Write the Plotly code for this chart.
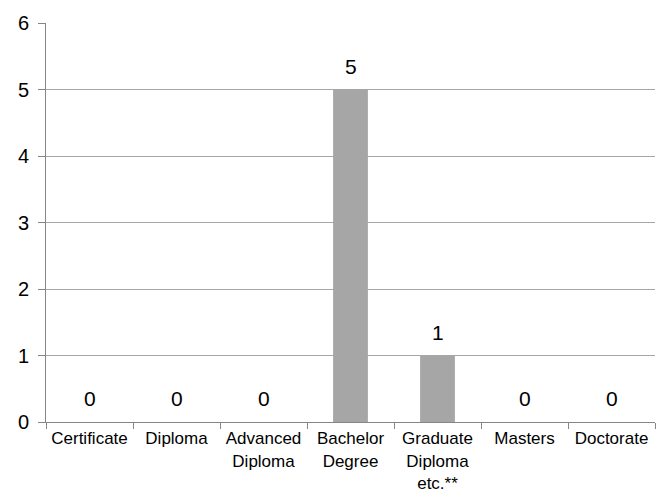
import plotly.graph_objects as go

categories = ["Certificate", "Diploma", "Advanced<br>Diploma", "Bachelor<br>Degree",
              "Graduate<br>Diploma<br>etc.**", "Masters", "Doctorate"]
counts = [0, 0, 0, 5, 1, 0, 0]
y_ticks = [0, 1, 2, 3, 4, 5, 6]

FONT = "Liberation Sans, Arial, sans-serif"

fig = go.Figure(
    go.Bar(
        x=categories,
        y=counts,
        marker=dict(color="#A6A6A6", line=dict(width=0)),
        width=0.4,
        hoverinfo="skip",
    )
)

# value labels above each bar
for cat, val in zip(categories, counts):
    fig.add_annotation(
        x=cat, y=val, text=str(val), showarrow=False,
        yanchor="bottom", yshift=10,
        font=dict(family=FONT, size=21, color="#000000"),
    )

fig.update_layout(
    width=662, height=495,
    margin=dict(l=46, r=7, t=23, b=73),
    paper_bgcolor="white", plot_bgcolor="white",
    showlegend=False,
    font=dict(family=FONT, size=18, color="#000000"),
    bargap=0.6,
)

fig.update_xaxes(
    type="category",
    showline=True, linecolor="#868686", linewidth=1,
    ticks="outside", tickson="boundaries", ticklen=6, tickcolor="#868686",
    showgrid=False, zeroline=False,
    tickangle=0, automargin=False,
    ticklabelstandoff=1,
    tickfont=dict(family=FONT, size=17, color="#000000"),
)

fig.update_yaxes(
    range=[0, 6], tickvals=y_ticks,
    showline=True, linecolor="#868686", linewidth=1,
    ticks="outside", ticklen=7, tickcolor="#868686",
    showgrid=True, gridcolor="#A6A6A6", gridwidth=1,
    zeroline=False, automargin=False,
    ticklabelstandoff=5,
    tickfont=dict(family=FONT, size=20, color="#000000"),
)

fig.write_html("out.html")
